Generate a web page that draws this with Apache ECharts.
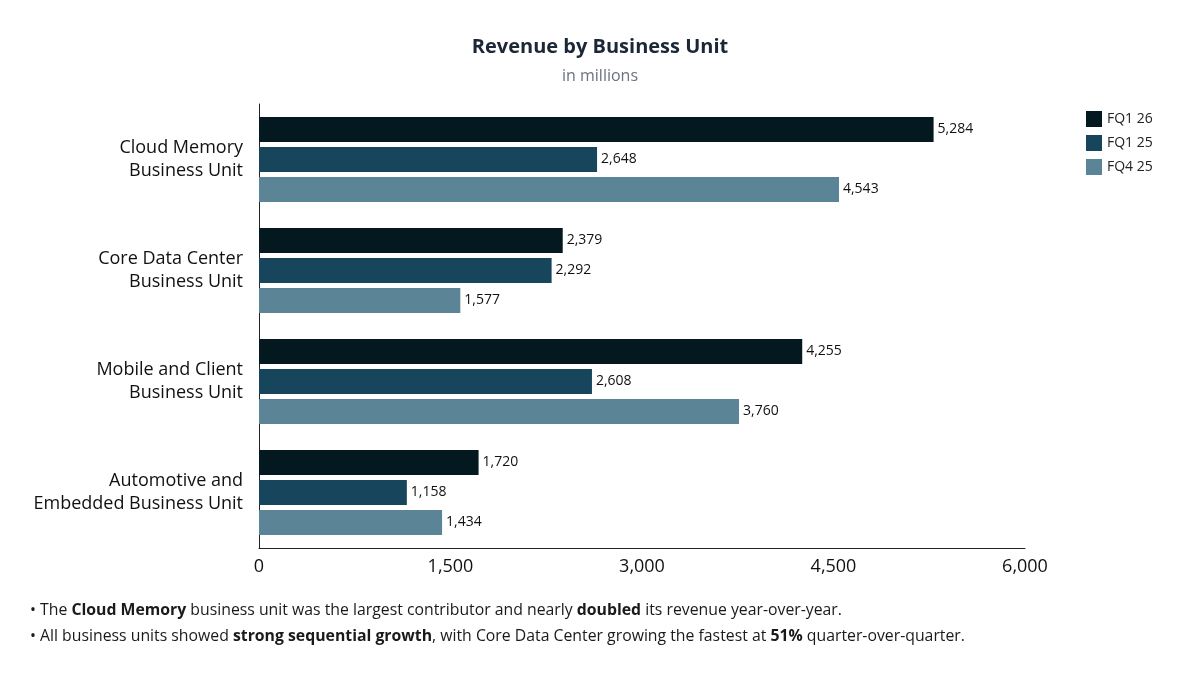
<!DOCTYPE html>
<html>
<head>
<meta charset="utf-8">
<script src="https://cdn.jsdelivr.net/npm/echarts@6/dist/echarts.min.js"></script>
<style>
  html, body { margin: 0; padding: 0; background: #fff; }
  #chart { width: 1200px; height: 676px; }
</style>
</head>
<body>
<div id="chart"></div>
<script>
const categories = [
  'Cloud Memory\nBusiness Unit',
  'Core Data Center\nBusiness Unit',
  'Mobile and Client\nBusiness Unit',
  'Automotive and\nEmbedded Business Unit'
];
const seriesNames = ['FQ1 26', 'FQ1 25', 'FQ4 25'];
const fq126 = [5284, 2379, 4255, 1720];
const fq125 = [2648, 2292, 2608, 1158];
const fq425 = [4543, 1577, 3760, 1434];
const xTicks = [0, 1500, 3000, 4500, 6000];
const colors = ['#041820', '#17455c', '#5b8496'];

const font = '"Open Sans", "Noto Sans", sans-serif';
const fmt = v => v.toLocaleString('en-US');

const chart = echarts.init(document.getElementById('chart'), null, { renderer: 'canvas' });

function makeSeries(name, data, i) {
  return {
    name: name,
    type: 'bar',
    data: data,
    barWidth: 25,
    barGap: '20%',
    itemStyle: { color: colors[i] },
    label: {
      show: true,
      position: 'right',
      distance: 4,
      fontFamily: font,
      fontSize: 14,
      color: '#111',
      formatter: p => fmt(p.value)
    }
  };
}

const option = {
  backgroundColor: '#fff',
  title: {
    text: 'Revenue by Business Unit',
    subtext: 'in millions',
    left: 'center',
    top: 32,
    itemGap: 11,
    textStyle: { fontFamily: font, fontSize: 20, fontWeight: 'bold', color: '#1b2636' },
    subtextStyle: { fontFamily: font, fontSize: 16, color: '#6b7280' }
  },
  legend: {
    orient: 'vertical',
    left: 1081,
    top: 106,
    itemWidth: 16,
    itemHeight: 16,
    itemGap: 8,
    icon: 'rect',
    data: seriesNames,
    textStyle: { fontFamily: font, fontSize: 14, color: '#222' }
  },
  grid: {
    left: 259,
    right: 175,
    top: 104,
    bottom: 128,
    containLabel: false
  },
  xAxis: {
    type: 'value',
    min: 0,
    max: 6000,
    interval: 1500,
    axisLine: { show: true, lineStyle: { color: '#222', width: 1 } },
    axisTick: { show: false },
    splitLine: { show: false },
    axisLabel: {
      fontFamily: font,
      fontSize: 18,
      color: '#111',
      margin: 10,
      formatter: v => xTicks.includes(v) ? fmt(v) : ''
    }
  },
  yAxis: {
    type: 'category',
    data: categories,
    inverse: true,
    axisLine: { show: true, lineStyle: { color: '#222', width: 1 } },
    axisTick: { show: false },
    axisLabel: {
      fontFamily: font,
      fontSize: 18,
      color: '#111',
      margin: 16,
      lineHeight: 23,
      align: 'right'
    }
  },
  series: [
    makeSeries(seriesNames[0], fq126, 0),
    makeSeries(seriesNames[1], fq125, 1),
    makeSeries(seriesNames[2], fq425, 2)
  ],
  graphic: [
    {
      type: 'text',
      left: 30,
      top: 602,
      style: {
        text: '• The {b|Cloud Memory} business unit was the largest contributor and nearly {b|doubled} its revenue year-over-year.',
        fontFamily: font,
        fontSize: 15.8,
        fill: '#1a1a1a',
        rich: { b: { fontFamily: font, fontSize: 15.8, fontWeight: 'bold', fill: '#1a1a1a' } }
      }
    },
    {
      type: 'text',
      left: 30,
      top: 628,
      style: {
        text: '• All business units showed {b|strong sequential growth}, with Core Data Center growing the fastest at {b|51%} quarter-over-quarter.',
        fontFamily: font,
        fontSize: 15.8,
        fill: '#1a1a1a',
        rich: { b: { fontFamily: font, fontSize: 15.8, fontWeight: 'bold', fill: '#1a1a1a' } }
      }
    }
  ]
};

chart.setOption(option);
</script>
</body>
</html>
